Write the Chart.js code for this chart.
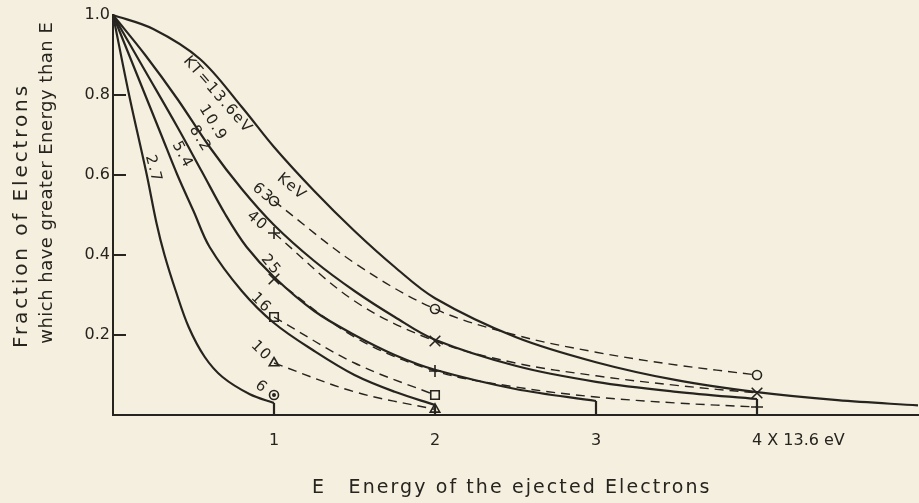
<!DOCTYPE html>
<html>
<head>
<meta charset="utf-8">
<script src="https://cdn.jsdelivr.net/npm/chart.js@4.4.0/dist/chart.umd.min.js"></script>
<style>
  html, body { margin: 0; padding: 0; background: #f4efde; }
  #wrap { width: 919px; height: 503px; }
</style>
</head>
<body>
<div id="wrap"><canvas id="chart" width="919" height="503"></canvas></div>
<script>
// E in units of 13.6 eV, F = fraction of electrons with energy above E
const kt27E = [0, 0.1, 0.21, 0.27, 0.32, 0.39, 0.47, 0.57, 0.68, 0.85, 1.0];
const kt27F = [1, 0.8, 0.6, 0.48, 0.4, 0.31, 0.22, 0.145, 0.095, 0.052, 0.03];

const kt54E = [0, 0.15, 0.3, 0.4, 0.5, 0.6, 0.8, 1.0, 1.25, 1.5, 1.75, 2.0];
const kt54F = [1, 0.85, 0.7, 0.6, 0.51, 0.42, 0.31, 0.23, 0.16, 0.1, 0.058, 0.025];

const kt82E = [0, 0.2, 0.4, 0.55, 0.7, 0.83, 1.0, 1.25, 1.5, 1.75, 2.0, 2.5, 3.0];
const kt82F = [1, 0.86, 0.72, 0.61, 0.5, 0.42, 0.345, 0.26, 0.2, 0.15, 0.113, 0.065, 0.035];

const kt109E = [0, 0.2, 0.4, 0.6, 0.8, 1.0, 1.25, 1.5, 1.75, 2.0, 2.5, 3.0, 3.5, 4.0];
const kt109F = [1, 0.9, 0.79, 0.67, 0.565, 0.475, 0.385, 0.31, 0.245, 0.188, 0.123, 0.083, 0.058, 0.04];

const kt136E = [0, 0.25, 0.54, 0.8, 1.0, 1.25, 1.5, 1.75, 2.0, 2.5, 3.0, 3.5, 4.0, 4.5, 5.0];
const kt136F = [1, 0.965, 0.89, 0.77, 0.67, 0.56, 0.46, 0.37, 0.292, 0.195, 0.132, 0.087, 0.057, 0.037, 0.024];

// proton curves (dashed), keV
const p63E = [1, 1.5, 2, 2.5, 3, 3.5, 4];
const p63F = [0.535, 0.38, 0.265, 0.2, 0.157, 0.125, 0.1];
const p40E = [1, 1.5, 2, 2.5, 3, 3.5, 4];
const p40F = [0.455, 0.285, 0.185, 0.13, 0.098, 0.074, 0.055];
const p25E = [1, 1.5, 2, 2.5, 3, 3.5, 4];
const p25F = [0.34, 0.195, 0.11, 0.07, 0.045, 0.03, 0.02];
const p16E = [1, 1.5, 2];
const p16F = [0.245, 0.13, 0.05];
const p10E = [1, 1.5, 2];
const p10F = [0.13, 0.058, 0.014];

// measured points
const circE = [1, 2, 4], circF = [0.535, 0.265, 0.1];
const plusE = [1, 2, 4], plusF = [0.455, 0.11, 0.02];
const crossE = [1, 2, 4], crossF = [0.34, 0.185, 0.055];
const boxE = [1, 2], boxF = [0.245, 0.05];
const triE = [1, 2], triF = [0.13, 0.014];
const dotE = [1], dotF = [0.05];

const yTicks = [0, 0.2, 0.4, 0.6, 0.8, 1.0];
const xTicks = ['', '1', '2', '3', '4 X 13.6 eV', ''];

const curveLabels = [
    { text: 'KT=13.6eV', x: 0.65, y: 0.8, rot: 49 },
    { text: '10.9', x: 0.62, y: 0.73, rot: 58 },
    { text: '8.2', x: 0.54, y: 0.69, rot: 58 },
    { text: '5.4', x: 0.43, y: 0.65, rot: 62 },
    { text: '2.7', x: 0.25, y: 0.615, rot: 75 },
    { text: 'KeV', x: 1.11, y: 0.57, rot: 40 },
    { text: '63', x: 0.93, y: 0.555, rot: 40 },
    { text: '40', x: 0.895, y: 0.485, rot: 40 },
    { text: '25', x: 0.98, y: 0.375, rot: 50 },
    { text: '16', x: 0.92, y: 0.28, rot: 45 },
    { text: '10', x: 0.92, y: 0.16, rot: 45 },
    { text: '6', x: 0.92, y: 0.07, rot: 40 }
];

// axis titles: text, centre, wanted length in px, font size, rotation
const titles = [
    { text: 'Fraction of Electrons', cx: 22, cy: 217, len: 265, size: 20, rot: -90 },
    { text: 'which have greater Energy than E', cx: 47, cy: 183, len: 322, size: 18, rot: -90 },
    { text: 'E', cx: 318, cy: 488, len: 0, size: 19, rot: 0 },
    { text: 'Energy of the ejected Electrons', cx: 529, cy: 488, len: 363, size: 19, rot: 0 }
];

const ink = '#27241f';
const font = '"DejaVu Sans", sans-serif';

function pts(xs, ys) {
    return xs.map((x, i) => ({ x: x, y: ys[i] }));
}

function solid(xs, ys) {
    return { data: pts(xs, ys), showLine: true, borderColor: ink, borderWidth: 2.2,
        pointRadius: 0, tension: 0.35, clip: false };
}

// vertical drop at the end of a cut-off curve
function drop(xs, ys) {
    const n = xs.length - 1;
    return { data: [{ x: xs[n], y: ys[n] }, { x: xs[n], y: 0 }], showLine: true,
        borderColor: ink, borderWidth: 2.2, pointRadius: 0, tension: 0, clip: false };
}

function dashed(xs, ys) {
    return { data: pts(xs, ys), showLine: true, borderColor: ink, borderWidth: 1.4,
        borderDash: [9, 6], pointRadius: 0, tension: 0.35, clip: false };
}

function marks(xs, ys, style, r, fill) {
    return { data: pts(xs, ys), showLine: false, pointStyle: style, pointRadius: r,
        pointBorderColor: ink, pointBackgroundColor: fill || 'rgba(0,0,0,0)',
        pointBorderWidth: 1.6, clip: false };
}

const datasets = [
    solid(kt27E, kt27F), drop(kt27E, kt27F),
    solid(kt54E, kt54F), drop(kt54E, kt54F),
    solid(kt82E, kt82F), drop(kt82E, kt82F),
    solid(kt109E, kt109F), drop(kt109E, kt109F),
    solid(kt136E, kt136F),
    dashed(p63E, p63F), dashed(p40E, p40F), dashed(p25E, p25F),
    dashed(p16E, p16F), dashed(p10E, p10F),
    marks(circE, circF, 'circle', 4.5),
    marks(plusE, plusF, 'cross', 6),
    marks(crossE, crossF, 'crossRot', 7.5),
    marks(boxE, boxF, 'rect', 6),
    marks(triE, triF, 'triangle', 5.5),
    marks(dotE, dotF, 'circle', 4.5),
    marks(dotE, dotF, 'circle', 1.2, ink)
];

const labelPlugin = {
    id: 'curveLabels',
    afterDatasetsDraw(chart) {
        const ctx = chart.ctx;
        const xs = chart.scales.x, ys = chart.scales.y;
        ctx.save();
        ctx.fillStyle = ink;
        ctx.textAlign = 'center';
        ctx.textBaseline = 'middle';
        ctx.font = '15px ' + font;
        ctx.letterSpacing = '1.5px';
        curveLabels.forEach(l => {
            ctx.save();
            ctx.translate(xs.getPixelForValue(l.x), ys.getPixelForValue(l.y));
            ctx.rotate(l.rot * Math.PI / 180);
            ctx.fillText(l.text, 0, 0);
            ctx.restore();
        });

        // axis titles, spaced out to the lettering width of the original
        titles.forEach(t => {
            ctx.save();
            ctx.font = t.size + 'px ' + font;
            ctx.letterSpacing = '0px';
            let sp = 0;
            if (t.len) {
                const w = ctx.measureText(t.text).width;
                sp = Math.max(0, (t.len - w) / t.text.length);
            }
            ctx.letterSpacing = sp + 'px';
            ctx.translate(t.cx, t.cy);
            ctx.rotate(t.rot * Math.PI / 180);
            ctx.fillText(t.text, sp / 2, 0);
            ctx.restore();
        });
        ctx.restore();
    }
};

new Chart(document.getElementById('chart'), {
    type: 'scatter',
    data: { datasets: datasets },
    options: {
        responsive: false,
        animation: false,
        layout: { autoPadding: false, padding: { top: 15, right: 1, left: 0, bottom: 0 } },
        plugins: { legend: { display: false }, tooltip: { enabled: false } },
        scales: {
            x: {
                type: 'linear', min: 0, max: 5,
                afterFit: s => { s.height = 88; s.paddingLeft = 0; s.paddingRight = 0; },
                grid: { display: false, drawTicks: false },
                border: { display: true, color: ink, width: 2 },
                ticks: {
                    stepSize: 1, autoSkip: false, maxRotation: 0, padding: 16,
                    align: 'start', labelOffset: -5,
                    color: ink, font: { family: font, size: 16 },
                    callback: (v) => xTicks[Math.round(v)]
                }
            },
            y: {
                type: 'linear', min: 0, max: 1,
                afterFit: s => { s.width = 113; s.paddingTop = 0; s.paddingBottom = 0; },
                afterBuildTicks: s => { s.ticks = yTicks.map(v => ({ value: v })); },
                grid: {
                    drawOnChartArea: false, drawTicks: true, tickLength: -13, lineWidth: 2,
                    color: c => (c.tick && (c.tick.value === 0 || c.tick.value === 1)) ? 'rgba(0,0,0,0)' : ink
                },
                border: { display: true, color: ink, width: 2 },
                ticks: {
                    padding: 16, color: ink, font: { family: font, size: 16 },
                    callback: (v) => v === 0 ? '' : v.toFixed(1)
                }
            }
        }
    },
    plugins: [labelPlugin]
});
</script>
</body>
</html>
